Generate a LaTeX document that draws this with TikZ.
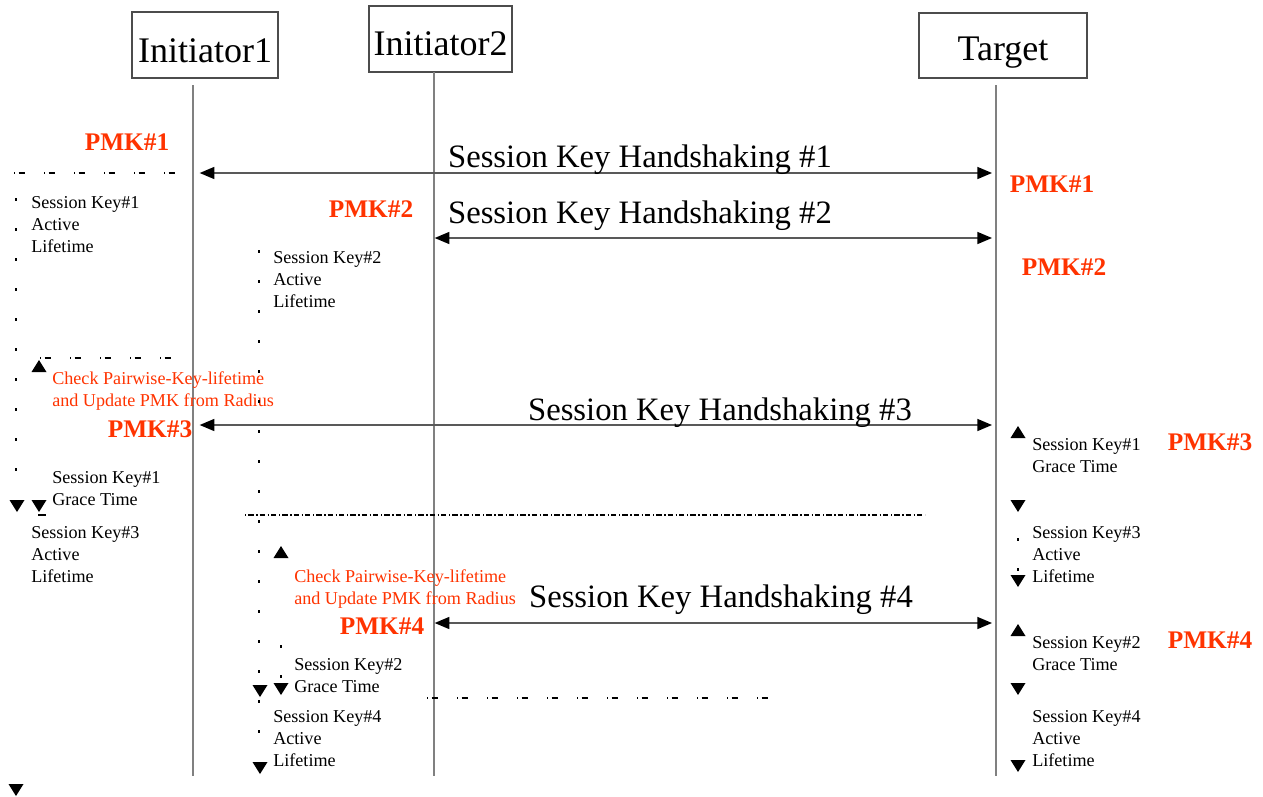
\documentclass[tikz,border=0pt]{standalone}
\usepackage{fontspec}
\setmainfont{Liberation Serif}
\usetikzlibrary{arrows.meta}
\definecolor{pmkred}{RGB}{255,51,0}
\definecolor{lifegray}{RGB}{128,128,128}
\begin{document}
\begin{tikzpicture}[x=0.75pt,y=-0.75pt,
  actor/.style={draw=black!70,line width=0.8pt,inner sep=0pt,text depth=0pt,font=\fontsize{27}{30}\selectfont},
  life/.style={draw=lifegray,line width=1.4pt},
  msg/.style={draw=black!65,line width=1.1pt,{Triangle[length=11pt,width=9pt,color=black]}-{Triangle[length=11pt,width=9pt,color=black]}},
  hs/.style={font=\fontsize{24.5}{28}\selectfont,inner sep=0pt,anchor=base},
  pmk/.style={font=\bfseries\fontsize{19}{22}\selectfont,text=pmkred,inner sep=0pt,anchor=base},
  note/.style={font=\fontsize{13.6}{16.5}\selectfont,align=left,inner sep=0pt,anchor=north west},
  rnote/.style={note,text=pmkred},
  vdots/.style={line width=0.8pt,dash pattern=on 2.5pt off 20pt},
  hdash/.style={line width=0.8pt,dash pattern=on 1pt off 2.5pt on 5pt off 14pt},
  densedash/.style={line width=0.8pt,dash pattern=on 1pt off 1.5pt on 4pt off 2pt},
  uptri/.pic={\fill (-7.5,6)--(7.5,6)--(0,-6)--cycle;},
  dntri/.pic={\fill (-7.5,-6)--(7.5,-6)--(0,6)--cycle;}
]
\useasboundingbox (0,0) rectangle (1263,796);

% actors
\node[actor,minimum width=109.5pt,minimum height=49.5pt,text height=25.5pt] (i1) at (205,45) {Initiator1};
\node[actor,minimum width=107.25pt,minimum height=49.5pt,text height=24pt] (i2) at (440.5,39) {Initiator2};
\node[actor,minimum width=126pt,minimum height=48.75pt,text height=21.8pt] (tg) at (1003,45.5) {Target};

% lifelines
\coordinate (i1top) at (193,85);  \coordinate (i1bot) at (193,776);
\coordinate (i2top) at (434,72);  \coordinate (i2bot) at (434,776);
\coordinate (tgtop) at (996,85);  \coordinate (tgbot) at (996,776);
\draw[life] (i1top) -- (i1bot);
\draw[life] (i2top) -- (i2bot);
\draw[life] (tgtop) -- (tgbot);

% handshake arrows
\coordinate (h1l) at (193,173); \coordinate (h1r) at (996,173);
\coordinate (h2l) at (434,238); \coordinate (h2r) at (996,238);
\coordinate (h3l) at (193,425); \coordinate (h3r) at (996,425);
\coordinate (h4l) at (434,623); \coordinate (h4r) at (996,623);
\draw[msg,shorten <=5pt,shorten >=3pt] (h1l) -- (h1r);
\draw[msg,shorten <=0.5pt,shorten >=3pt] (h2l) -- (h2r);
\draw[msg,shorten <=5pt,shorten >=3pt] (h3l) -- (h3r);
\draw[msg,shorten <=0.5pt,shorten >=3pt] (h4l) -- (h4r);
\node[hs] (hs1) at (640,167) {Session Key Handshaking \#1};
\node[hs] (hs2) at (640,223) {Session Key Handshaking \#2};
\node[hs] (hs3) at (720,420) {Session Key Handshaking \#3};
\node[hs] (hs4) at (721,607) {Session Key Handshaking \#4};

% PMK labels
\node[pmk] (p1l) at (127,150) {PMK\#1};
\node[pmk] (p1r) at (1052,192) {PMK\#1};
\node[pmk] (p2l) at (371,217) {PMK\#2};
\node[pmk] (p2r) at (1064,275) {PMK\#2};
\node[pmk] (p3l) at (150,437) {PMK\#3};
\node[pmk] (p3r) at (1210,450) {PMK\#3};
\node[pmk] (p4l) at (382,634) {PMK\#4};
\node[pmk] (p4r) at (1210,648) {PMK\#4};

% notes (first baseline minus 15.4px)
\node[note] (nA) at (31,192.6) {\strut Session Key\#1\\Active\\Lifetime};
\node[note] (nB) at (273,247.6) {\strut Session Key\#2\\Active\\Lifetime};
\node[rnote] (nC) at (52,368.6) {\strut Check Pairwise-Key-lifetime\\and Update PMK from Radius};
\node[note] (nD) at (52,467.6) {\strut Session Key\#1\\Grace Time};
\node[note] (nE) at (31,522.6) {\strut Session Key\#3\\Active\\Lifetime};
\node[rnote] (nF) at (294,566.6) {\strut Check Pairwise-Key-lifetime\\and Update PMK from Radius};
\node[note] (nG) at (294,654.6) {\strut Session Key\#2\\Grace Time};
\node[note] (nH) at (273,706.6) {\strut Session Key\#4\\Active\\Lifetime};
\node[note] (nI) at (1032,434.6) {\strut Session Key\#1\\Grace Time};
\node[note] (nJ) at (1032,522.6) {\strut Session Key\#3\\Active\\Lifetime};
\node[note] (nK) at (1032,632.6) {\strut Session Key\#2\\Grace Time};
\node[note] (nL) at (1032,706.6) {\strut Session Key\#4\\Active\\Lifetime};

% dashed horizontal markers
\draw[hdash] (14,173) -- (180,173);
\draw[hdash] (40,358) -- (180,358);
\draw[densedash] (245,515) -- (925,515);
\draw[hdash] (427,698) -- (775,698);
\draw[line width=0.8pt] (38,515) -- (46,515);

% dotted vertical markers
\draw[vdots] (16,198) -- (16,498);
\draw[vdots] (259,250) -- (259,682);
\draw[vdots] (259,700) -- (259,760);
\draw[vdots] (281,645) -- (281,680);
\draw[vdots] (1018,538) -- (1018,572);

% triangle markers
\pic at (39,366) {uptri};
\pic at (17,506) {dntri};
\pic at (39,506) {dntri};
\pic at (281,552) {uptri};
\pic at (260,691) {dntri};
\pic at (281,689) {dntri};
\pic at (260,768) {dntri};
\pic at (16,790) {dntri};
\pic at (1018,432) {uptri};
\pic at (1018,506) {dntri};
\pic at (1018,581) {dntri};
\pic at (1018,630) {uptri};
\pic at (1018,689) {dntri};
\pic at (1018,766) {dntri};
\end{tikzpicture}
\end{document}
